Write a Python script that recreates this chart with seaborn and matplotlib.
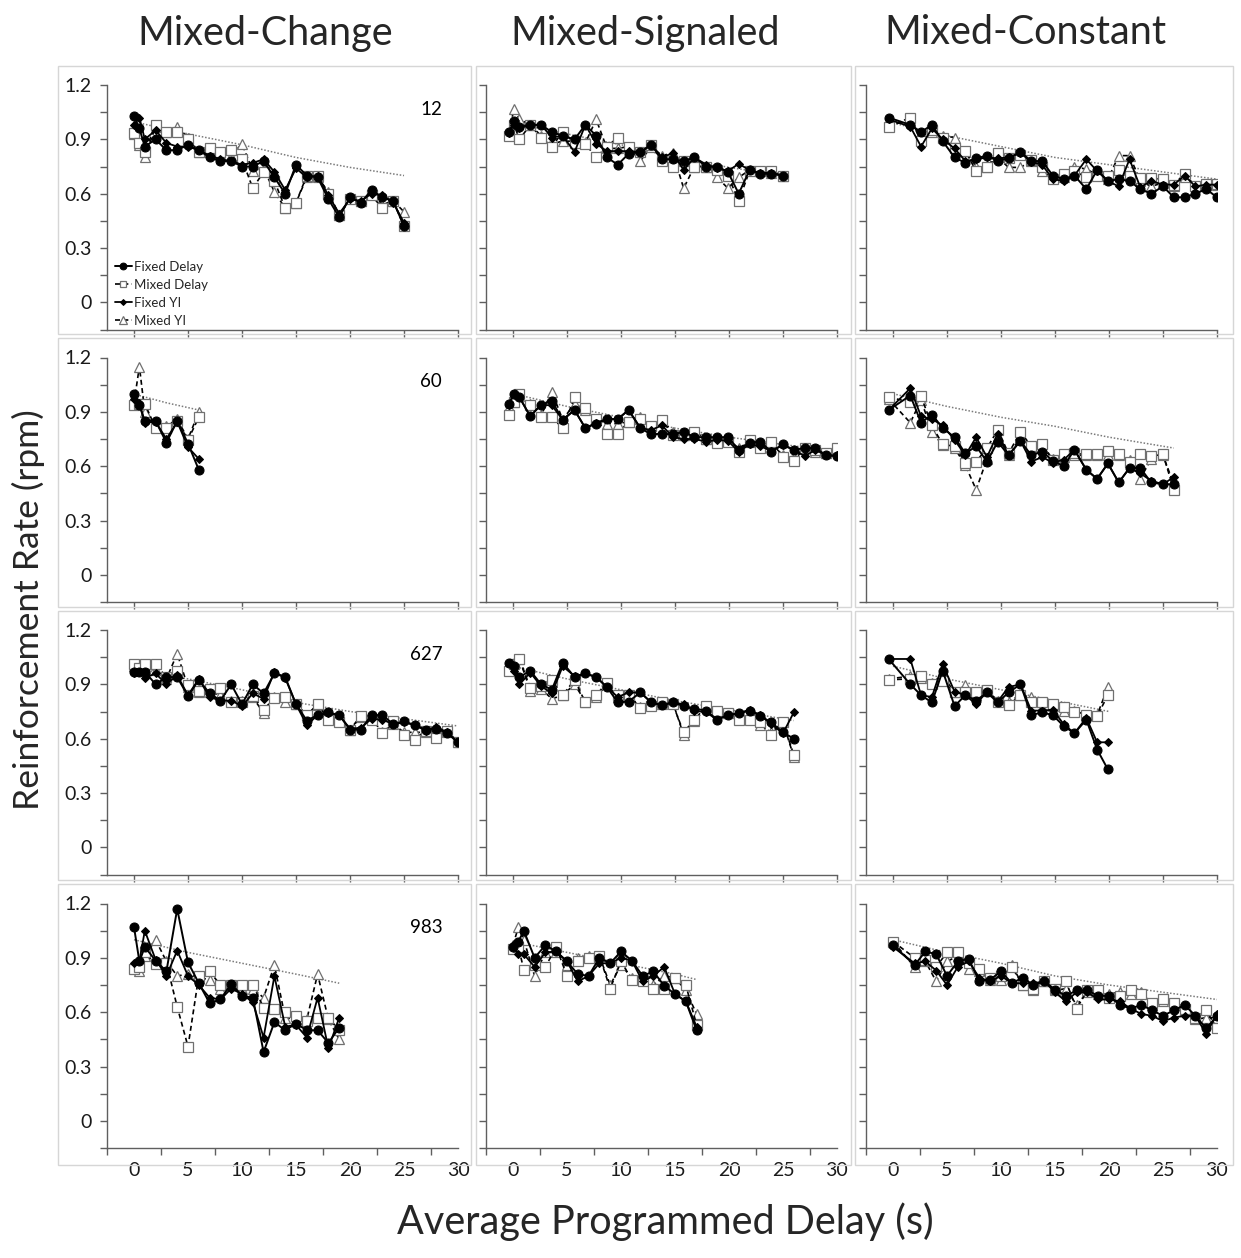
import matplotlib
matplotlib.use("Agg")
import matplotlib.pyplot as plt
import seaborn as sns
from matplotlib.patches import Rectangle

sns.set_theme(style="white")
plt.rcParams["font.family"] = ["Lato", "DejaVu Sans"]

# ---------------- data ----------------
col_titles = ["Mixed-Change", "Mixed-Signaled", "Mixed-Constant"]
subjects = ["12", "60", "627", "983"]
series_names = ["Fixed Delay", "Mixed Delay", "Fixed YI", "Mixed YI"]

# delay positions (s)
x_c1_r1 = [0, 0.5, 1, 2, 3, 4, 5, 6, 7, 8, 9, 10, 11, 12, 13, 14, 15, 16, 17, 18, 19, 20, 21, 22, 23, 24, 25]
x_c1_r2 = [0, 0.5, 1, 2, 3, 4, 5, 6]
x_c1_r3 = [0, 0.5, 1, 2, 3, 4, 5, 6, 7, 8, 9, 10, 11, 12, 13, 14, 15, 16, 17, 18, 19, 20, 21, 22, 23, 24, 25,
           26, 27, 28, 29, 30]
x_c1_r4 = [0, 0.5, 1, 2, 3, 4, 5, 6, 7, 8, 9, 10, 11, 12, 13, 14, 15, 16, 17, 18, 19]
grid_sig = [1.6, 2.6, 3.6, 4.6, 5.7, 6.7, 7.7, 8.7, 9.7, 10.7, 11.8, 12.8, 13.8, 14.8, 15.8, 16.8, 17.9,
            18.9, 19.9, 20.9, 21.9, 22.9, 23.9, 25.0, 26.0, 27.0, 28.0, 29.0, 30.0]
x_c2_r1 = [-0.4, 0.1, 0.6] + grid_sig[:24]
x_c2_r2 = [-0.4, 0.1, 0.6] + grid_sig
x_c2_r3 = [-0.4, 0.1, 0.6] + grid_sig[:25]
x_c2_r4 = [0, 0.5, 1, 2, 3, 4, 5, 6, 7, 8, 9, 10, 11, 12, 13, 14, 15, 16, 17]
x_c3_r1 = [-0.4] + grid_sig
x_c3_r2 = [-0.4] + grid_sig[:25]
x_c3_r3 = [-0.4] + grid_sig[:19]
x_c3_r4 = [0, 2, 3, 4, 5, 6, 7, 8, 9, 10, 11, 12, 13, 14, 15, 16, 17, 18, 19, 20, 21, 22, 23, 24, 25, 26,
           27, 28, 29, 30]

# ---- subject 12 ----
fd_12_chg = [1.03, 0.96, 0.86, 0.90, 0.84, 0.84, 0.87, 0.84, 0.80, 0.78, 0.78, 0.75, 0.75, 0.78, 0.69, 0.60,
             0.76, 0.70, 0.69, 0.57, 0.47, 0.58, 0.55, 0.62, 0.58, 0.56, 0.42]
md_12_chg = [0.935, 0.88, 0.83, 0.98, 0.94, 0.94, 0.90, 0.83, 0.85, 0.83, 0.84, 0.79, 0.63, 0.72, 0.67, 0.52,
             0.55, 0.70, 0.70, 0.60, 0.48, 0.57, 0.56, 0.59, 0.52, 0.56, 0.42]
fyi_12_chg = [0.98, 1.02, 0.90, 0.95, 0.88, 0.86, 0.86, 0.84, 0.81, 0.79, 0.78, 0.76, 0.77, 0.79, 0.72, 0.62,
              0.74, 0.69, 0.70, 0.59, 0.49, 0.57, 0.56, 0.60, 0.59, 0.55, 0.44]
myi_12_chg = [0.93, 0.87, 0.80, 0.97, 0.94, 0.97, 0.91, 0.83, 0.83, 0.82, 0.81, 0.875, 0.725, 0.74, 0.61, 0.52,
              0.55, 0.69, 0.69, 0.61, 0.48, 0.575, 0.56, 0.60, 0.54, 0.56, 0.50]
refx_12_chg = [0.5, 5, 10, 15, 20, 25]
ref_12_chg = [0.99, 0.93, 0.87, 0.80, 0.745, 0.70]

fd_12_sig = [0.94, 1.00, 0.97, 0.98, 0.98, 0.94, 0.92, 0.90, 0.98, 0.92, 0.80, 0.76, 0.82, 0.83, 0.87, 0.79,
             0.79, 0.78, 0.80, 0.75, 0.75, 0.72, 0.60, 0.73, 0.71, 0.71, 0.70]
md_12_sig = [0.92, 0.98, 0.90, 0.98, 0.91, 0.86, 0.94, 0.88, 0.875, 0.80, 0.86, 0.91, 0.86, 0.83, 0.87, 0.78,
             0.75, 0.78, 0.75, 0.75, 0.73, 0.70, 0.56, 0.725, 0.725, 0.725, 0.70]
fyi_12_sig = [0.935, 0.98, 0.96, 0.98, 0.98, 0.91, 0.92, 0.83, 0.98, 0.875, 0.835, 0.835, 0.835, 0.83, 0.87,
              0.80, 0.825, 0.73, 0.80, 0.76, 0.74, 0.725, 0.765, 0.73, 0.715, 0.715, 0.70]
myi_12_sig = [0.935, 1.07, 1.01, 0.98, 0.92, 0.875, 0.89, 0.89, 0.88, 1.01, 0.85, 0.85, 0.86, 0.78, 0.86, 0.81,
              0.825, 0.63, 0.75, 0.75, 0.69, 0.63, 0.69, 0.73, 0.725, 0.715, 0.70]
refx_12_sig = [0, 5, 10, 15, 20, 25]
ref_12_sig = [0.99, 0.93, 0.87, 0.80, 0.745, 0.70]

fd_12_con = [1.02, 0.98, 0.94, 0.98, 0.89, 0.80, 0.77, 0.795, 0.81, 0.78, 0.795, 0.83, 0.78, 0.78, 0.70, 0.68,
             0.70, 0.625, 0.73, 0.67, 0.68, 0.67, 0.625, 0.60, 0.64, 0.58, 0.58, 0.60, 0.625, 0.58]
md_12_con = [0.97, 1.02, 0.89, 0.95, 0.91, 0.85, 0.835, 0.725, 0.745, 0.825, 0.795, 0.815, 0.785, 0.745, 0.68,
             0.71, 0.725, 0.69, 0.70, 0.70, 0.73, 0.70, 0.685, 0.685, 0.68, 0.65, 0.71, 0.64, 0.655, 0.655]
fyi_12_con = [1.01, 0.97, 0.86, 0.96, 0.90, 0.85, 0.78, 0.79, 0.80, 0.795, 0.80, 0.825, 0.775, 0.76, 0.68,
              0.67, 0.70, 0.79, 0.725, 0.67, 0.64, 0.79, 0.635, 0.67, 0.65, 0.65, 0.70, 0.64, 0.65, 0.65]
myi_12_con = [0.98, 1.00, 0.90, 0.94, 0.92, 0.91, 0.835, 0.75, 0.745, 0.80, 0.745, 0.745, 0.78, 0.725, 0.685,
              0.69, 0.75, 0.735, 0.705, 0.68, 0.81, 0.81, 0.67, 0.64, 0.66, 0.64, 0.69, 0.64, 0.65, 0.65]
refx_12_con = [0, 5, 10, 15, 20, 25, 30]
ref_12_con = [0.99, 0.92, 0.86, 0.80, 0.76, 0.72, 0.68]

# ---- subject 60 ----
fd_60_chg = [1.00, 0.935, 0.85, 0.85, 0.73, 0.85, 0.725, 0.58]
md_60_chg = [0.935, 0.945, 0.945, 0.81, 0.81, 0.85, 0.745, 0.87]
fyi_60_chg = [0.97, 0.95, 0.84, 0.845, 0.75, 0.845, 0.705, 0.64]
myi_60_chg = [0.95, 1.15, 0.90, 0.82, 0.82, 0.86, 0.75, 0.90]
refx_60_chg = [0.5, 3, 6]
ref_60_chg = [0.99, 0.95, 0.91]

fd_60_sig = [0.945, 1.00, 0.98, 0.875, 0.94, 0.96, 0.855, 0.91, 0.81, 0.835, 0.86, 0.86, 0.91, 0.81, 0.775,
             0.78, 0.775, 0.79, 0.76, 0.76, 0.76, 0.76, 0.69, 0.73, 0.735, 0.68, 0.72, 0.69, 0.70, 0.70, 0.66,
             0.655]
md_60_sig = [0.88, 0.955, 1.00, 0.935, 0.87, 0.87, 0.81, 0.98, 0.92, 0.86, 0.78, 0.78, 0.845, 0.86, 0.82,
             0.855, 0.77, 0.77, 0.79, 0.75, 0.73, 0.735, 0.68, 0.745, 0.70, 0.735, 0.65, 0.63, 0.70, 0.69, 0.67,
             0.70]
fyi_60_sig = [0.935, 1.00, 0.98, 0.875, 0.94, 0.935, 0.857, 0.91, 0.81, 0.84, 0.86, 0.86, 0.91, 0.81, 0.80,
              0.825, 0.76, 0.75, 0.75, 0.735, 0.745, 0.74, 0.68, 0.72, 0.71, 0.685, 0.715, 0.69, 0.655, 0.69,
              0.66, 0.66]
myi_60_sig = [0.925, 0.955, 0.99, 0.945, 0.88, 1.01, 0.857, 0.945, 0.91, 0.86, 0.835, 0.835, 0.845, 0.87,
              0.82, 0.855, 0.79, 0.77, 0.78, 0.75, 0.735, 0.745, 0.70, 0.735, 0.72, 0.725, 0.66, 0.65, 0.70,
              0.68, 0.67, 0.69]
refx_60_sig = [0, 5, 10, 15, 20, 25, 30]
ref_60_sig = [1.0, 0.93, 0.87, 0.81, 0.76, 0.72, 0.68]

fd_60_con = [0.91, 0.99, 0.84, 0.885, 0.81, 0.76, 0.67, 0.71, 0.625, 0.735, 0.66, 0.74, 0.66, 0.68, 0.63,
             0.60, 0.69, 0.58, 0.53, 0.615, 0.51, 0.59, 0.59, 0.51, 0.50, 0.50]
md_60_con = [0.98, 0.955, 0.985, 0.825, 0.72, 0.71, 0.62, 0.625, 0.70, 0.80, 0.67, 0.79, 0.71, 0.725, 0.635,
             0.665, 0.67, 0.665, 0.665, 0.685, 0.665, 0.625, 0.665, 0.655, 0.665, 0.47]
fyi_60_con = [0.91, 1.03, 0.875, 0.86, 0.825, 0.745, 0.66, 0.76, 0.65, 0.78, 0.66, 0.74, 0.625, 0.65, 0.62,
              0.635, 0.69, 0.58, 0.53, 0.615, 0.51, 0.59, 0.56, 0.52, 0.50, 0.54]
myi_60_con = [0.97, 0.84, 0.965, 0.79, 0.715, 0.70, 0.605, 0.47, 0.64, 0.765, 0.66, 0.76, 0.705, 0.705, 0.64,
              0.65, 0.66, 0.66, 0.66, 0.66, 0.66, 0.635, 0.53, 0.64, 0.66, 0.50]
refx_60_con = [0, 5, 10, 15, 20, 26]
ref_60_con = [1.0, 0.93, 0.87, 0.82, 0.76, 0.70]

# ---- subject 627 ----
fd_627_chg = [0.97, 0.97, 0.97, 0.90, 0.94, 0.94, 0.835, 0.925, 0.85, 0.81, 0.90, 0.79, 0.90, 0.85, 0.96,
              0.94, 0.79, 0.70, 0.73, 0.745, 0.73, 0.65, 0.65, 0.73, 0.73, 0.68, 0.695, 0.675, 0.65, 0.655,
              0.63, 0.58]
md_627_chg = [1.01, 0.99, 1.01, 1.01, 0.94, 0.975, 0.895, 0.865, 0.875, 0.88, 0.80, 0.80, 0.835, 0.76, 0.825,
              0.83, 0.79, 0.73, 0.79, 0.705, 0.69, 0.65, 0.725, 0.705, 0.63, 0.695, 0.62, 0.595, 0.645, 0.605,
              0.645, 0.58]
fyi_627_chg = [0.965, 0.97, 0.935, 0.96, 0.90, 0.95, 0.84, 0.93, 0.83, 0.81, 0.81, 0.78, 0.85, 0.82, 0.97,
               0.935, 0.79, 0.675, 0.73, 0.74, 0.73, 0.655, 0.66, 0.71, 0.705, 0.68, 0.69, 0.675, 0.645, 0.665,
               0.635, 0.58]
myi_627_chg = [1.00, 0.995, 0.985, 0.98, 0.93, 1.07, 0.885, 0.855, 0.86, 0.84, 0.81, 0.81, 0.83, 0.74, 0.83,
               0.80, 0.79, 0.73, 0.785, 0.73, 0.695, 0.65, 0.72, 0.71, 0.635, 0.68, 0.635, 0.635, 0.635, 0.625,
               0.635, 0.58]
refx_627_chg = [0, 5, 10, 15, 20, 25, 30]
ref_627_chg = [0.99, 0.93, 0.87, 0.80, 0.75, 0.71, 0.67]

fd_627_sig = [1.02, 1.00, 0.94, 0.975, 0.90, 0.87, 1.02, 0.94, 0.96, 0.94, 0.885, 0.80, 0.805, 0.855, 0.80,
              0.785, 0.80, 0.78, 0.765, 0.755, 0.705, 0.73, 0.74, 0.755, 0.725, 0.69, 0.635, 0.60]
md_627_sig = [0.975, 1.01, 1.04, 0.88, 0.89, 0.925, 0.84, 0.925, 0.80, 0.84, 0.91, 0.84, 0.84, 0.77, 0.78,
              0.80, 0.79, 0.635, 0.705, 0.78, 0.755, 0.74, 0.705, 0.705, 0.69, 0.62, 0.69, 0.51]
fyi_627_sig = [1.02, 0.975, 0.90, 0.965, 0.89, 0.85, 1.00, 0.945, 0.96, 0.94, 0.885, 0.83, 0.855, 0.855, 0.80,
               0.785, 0.80, 0.79, 0.755, 0.745, 0.705, 0.73, 0.74, 0.76, 0.73, 0.68, 0.63, 0.745]
myi_627_sig = [0.98, 1.02, 1.04, 0.865, 0.875, 0.82, 0.84, 0.90, 0.805, 0.83, 0.90, 0.83, 0.84, 0.775, 0.79,
               0.79, 0.80, 0.62, 0.695, 0.775, 0.745, 0.74, 0.715, 0.72, 0.675, 0.635, 0.69, 0.50]
refx_627_sig = [0, 5, 10, 15, 20, 26]
ref_627_sig = [1.0, 0.93, 0.87, 0.81, 0.76, 0.70]

fd_627_con = [1.04, 0.90, 0.84, 0.80, 0.975, 0.78, 0.84, 0.81, 0.855, 0.80, 0.855, 0.90, 0.73, 0.745, 0.73,
              0.67, 0.63, 0.705, 0.54, 0.43]
md_627_con = [0.925, 0.93, 0.945, 0.90, 0.92, 0.855, 0.86, 0.855, 0.87, 0.805, 0.785, 0.84, 0.80, 0.80, 0.79,
              0.775, 0.75, 0.73, 0.725, 0.84]
fyi_627_con = [1.04, 1.04, 0.84, 0.83, 1.01, 0.86, 0.84, 0.79, 0.86, 0.805, 0.885, 0.90, 0.755, 0.755, 0.76,
               0.68, 0.63, 0.715, 0.58, 0.58]
myi_627_con = [0.93, 0.945, 0.935, 0.91, 0.95, 0.855, 0.895, 0.84, 0.865, 0.81, 0.805, 0.84, 0.83, 0.80, 0.78,
               0.755, 0.755, 0.73, 0.73, 0.885]
refx_627_con = [0, 5, 10, 15, 20]
ref_627_con = [1.0, 0.93, 0.87, 0.81, 0.75]

# ---- subject 983 ----
fd_983_chg = [1.07, 0.88, 0.96, 0.885, 0.825, 1.17, 0.875, 0.76, 0.65, 0.67, 0.757, 0.69, 0.68, 0.38, 0.545,
              0.50, 0.537, 0.50, 0.50, 0.43, 0.515]
md_983_chg = [0.84, 0.85, 0.93, 0.865, 0.87, 0.63, 0.41, 0.80, 0.825, 0.75, 0.75, 0.75, 0.75, 0.625, 0.62,
              0.60, 0.58, 0.55, 0.57, 0.57, 0.50]
fyi_983_chg = [0.87, 0.88, 1.05, 0.89, 0.80, 0.94, 0.80, 0.75, 0.68, 0.67, 0.73, 0.70, 0.655, 0.46, 0.80,
               0.52, 0.53, 0.46, 0.68, 0.40, 0.57]
myi_983_chg = [0.85, 0.83, 0.91, 1.00, 0.88, 0.80, 0.81, 0.79, 0.78, 0.73, 0.75, 0.73, 0.73, 0.68, 0.86,
               0.57, 0.56, 0.56, 0.81, 0.56, 0.45]
refx_983_chg = [0, 5, 10, 15, 19]
ref_983_chg = [1.0, 0.93, 0.87, 0.81, 0.76]

fd_983_sig = [0.96, 0.99, 1.05, 0.90, 0.97, 0.935, 0.88, 0.81, 0.80, 0.90, 0.87, 0.935, 0.885, 0.80, 0.825,
              0.745, 0.70, 0.66, 0.50]
md_983_sig = [0.95, 0.96, 0.835, 0.86, 0.85, 0.96, 0.80, 0.88, 0.90, 0.91, 0.73, 0.88, 0.78, 0.77, 0.73,
              0.73, 0.79, 0.75, 0.53]
fyi_983_sig = [0.97, 0.92, 0.92, 0.85, 0.93, 0.935, 0.88, 0.77, 0.80, 0.87, 0.87, 0.90, 0.885, 0.77, 0.80,
               0.85, 0.70, 0.66, 0.52]
myi_983_sig = [0.97, 1.07, 1.00, 0.80, 0.93, 0.93, 0.86, 0.90, 0.91, 0.91, 0.75, 0.86, 0.79, 0.78, 0.75,
               0.80, 0.79, 0.72, 0.59]
refx_983_sig = [0, 5, 10, 15, 17]
ref_983_sig = [0.99, 0.93, 0.87, 0.81, 0.78]

fd_983_con = [0.97, 0.86, 0.935, 0.92, 0.80, 0.88, 0.895, 0.77, 0.78, 0.825, 0.76, 0.79, 0.75, 0.77, 0.725,
              0.69, 0.72, 0.72, 0.69, 0.69, 0.64, 0.62, 0.64, 0.61, 0.58, 0.61, 0.64, 0.58, 0.51, 0.58]
md_983_con = [0.99, 0.90, 0.89, 0.85, 0.93, 0.93, 0.87, 0.84, 0.79, 0.80, 0.85, 0.75, 0.73, 0.77, 0.73,
              0.77, 0.62, 0.72, 0.72, 0.68, 0.69, 0.72, 0.70, 0.65, 0.67, 0.65, 0.62, 0.57, 0.61, 0.51]
fyi_983_con = [0.96, 0.87, 0.88, 0.83, 0.75, 0.85, 0.88, 0.79, 0.77, 0.80, 0.76, 0.76, 0.76, 0.77, 0.71,
               0.66, 0.71, 0.71, 0.67, 0.67, 0.66, 0.62, 0.59, 0.58, 0.55, 0.57, 0.58, 0.58, 0.48, 0.59]
myi_983_con = [0.99, 0.85, 0.88, 0.77, 0.88, 0.91, 0.84, 0.83, 0.78, 0.78, 0.86, 0.75, 0.72, 0.77, 0.72,
               0.73, 0.64, 0.71, 0.70, 0.70, 0.71, 0.70, 0.71, 0.64, 0.66, 0.64, 0.61, 0.56, 0.57, 0.57]
refx_983_con = [0, 5, 10, 15, 20, 25, 30]
ref_983_con = [1.0, 0.93, 0.87, 0.80, 0.75, 0.71, 0.67]

yticks = [-0.15, 0, 0.15, 0.3, 0.45, 0.6, 0.75, 0.9, 1.05, 1.2]
ytick_labels = ["", "0", "", "0.3", "", "0.6", "", "0.9", "", "1.2"]
xticks = [0, 5, 10, 15, 20, 25, 30]
xtick_labels = ["0", "5", "10", "15", "20", "25", "30"]
xticks_minor = [-2.5, 2.5, 7.5, 12.5, 17.5, 22.5, 27.5, 30]

panels = [
    [(x_c1_r1, fd_12_chg, md_12_chg, fyi_12_chg, myi_12_chg, refx_12_chg, ref_12_chg),
     (x_c2_r1, fd_12_sig, md_12_sig, fyi_12_sig, myi_12_sig, refx_12_sig, ref_12_sig),
     (x_c3_r1, fd_12_con, md_12_con, fyi_12_con, myi_12_con, refx_12_con, ref_12_con)],
    [(x_c1_r2, fd_60_chg, md_60_chg, fyi_60_chg, myi_60_chg, refx_60_chg, ref_60_chg),
     (x_c2_r2, fd_60_sig, md_60_sig, fyi_60_sig, myi_60_sig, refx_60_sig, ref_60_sig),
     (x_c3_r2, fd_60_con, md_60_con, fyi_60_con, myi_60_con, refx_60_con, ref_60_con)],
    [(x_c1_r3, fd_627_chg, md_627_chg, fyi_627_chg, myi_627_chg, refx_627_chg, ref_627_chg),
     (x_c2_r3, fd_627_sig, md_627_sig, fyi_627_sig, myi_627_sig, refx_627_sig, ref_627_sig),
     (x_c3_r3, fd_627_con, md_627_con, fyi_627_con, myi_627_con, refx_627_con, ref_627_con)],
    [(x_c1_r4, fd_983_chg, md_983_chg, fyi_983_chg, myi_983_chg, refx_983_chg, ref_983_chg),
     (x_c2_r4, fd_983_sig, md_983_sig, fyi_983_sig, myi_983_sig, refx_983_sig, ref_983_sig),
     (x_c3_r4, fd_983_con, md_983_con, fyi_983_con, myi_983_con, refx_983_con, ref_983_con)],
]

# ---------------- layout ----------------
W, H = 1241, 1258
fig = plt.figure(figsize=(W / 100, H / 100), dpi=100)

col_left = [107, 486, 866]
ax_w = 351
row_bottom = [329.5, 602, 874.5, 1148]
ax_h = 244.5

border_x = [(58, 471), (476, 851), (855, 1233)]
border_y = [(66, 334), (338, 607), (611, 880), (884, 1165)]
for (bx0, bx1) in border_x:
    for (by0, by1) in border_y:
        fig.patches.append(Rectangle((bx0 / W, 1 - by1 / H), (bx1 - bx0) / W, (by1 - by0) / H,
                                     transform=fig.transFigure, fill=False,
                                     edgecolor="#d6d6d6", linewidth=1.0, zorder=0))

spine_col = "#5f5f5f"
for r in range(4):
    for c in range(3):
        x, fd, md, fyi, myi, rx, ry = panels[r][c]
        ax = fig.add_axes([col_left[c] / W, 1 - row_bottom[r] / H, ax_w / W, ax_h / H])
        ax.set_facecolor("none")
        sns.lineplot(x=rx, y=ry, ax=ax, color="#7a7a7a", linewidth=1.1, linestyle=(0, (1, 1.2)),
                     sort=False, estimator=None, legend=False, zorder=1)
        l_myi = sns.lineplot(x=x, y=myi, ax=ax, color="black", linewidth=1.2, linestyle=(0, (3, 2)),
                             marker="^", markersize=7, markerfacecolor="white", markeredgecolor="#707070",
                             markeredgewidth=0.9, sort=False, estimator=None, legend=False, zorder=2,
                             label=series_names[3]).get_lines()[-1]
        l_md = sns.lineplot(x=x, y=md, ax=ax, color="black", linewidth=1.2, linestyle=(0, (3, 2)),
                            marker="s", markersize=6.5, markerfacecolor="white", markeredgecolor="#707070",
                            markeredgewidth=0.9, sort=False, estimator=None, legend=False, zorder=3,
                            label=series_names[1]).get_lines()[-1]
        l_fyi = sns.lineplot(x=x, y=fyi, ax=ax, color="black", linewidth=1.3,
                             marker="D", markersize=4, markerfacecolor="black", markeredgecolor="black",
                             sort=False, estimator=None, legend=False, zorder=4,
                             label=series_names[2]).get_lines()[-1]
        l_fd = sns.lineplot(x=x, y=fd, ax=ax, color="black", linewidth=1.4,
                            marker="o", markersize=6.5, markerfacecolor="black", markeredgecolor="black",
                            sort=False, estimator=None, legend=False, zorder=5,
                            label=series_names[0]).get_lines()[-1]

        ax.set_xlim(-2.5, 30)
        ax.set_ylim(-0.15, 1.2)
        ax.set_xlabel("")
        ax.set_ylabel("")
        for s in ["top", "right"]:
            ax.spines[s].set_visible(False)
        for s in ["left", "bottom"]:
            ax.spines[s].set_color(spine_col)
            ax.spines[s].set_linewidth(1.0)

        ax.set_yticks(yticks)
        ax.set_yticklabels(ytick_labels if c == 0 else [""] * len(yticks))
        ax.tick_params(axis="y", direction="out", length=5, width=1, color=spine_col,
                       labelsize=14, pad=6, left=True, labelcolor="#1a1a1a")
        if r == 3:
            ax.set_xticks(xticks)
            ax.set_xticklabels(xtick_labels)
            ax.set_xticks(xticks_minor, minor=True)
            ax.tick_params(axis="x", which="major", length=0, labelsize=14, pad=10, bottom=True,
                           labelcolor="#1a1a1a")
            ax.tick_params(axis="x", which="minor", direction="out", length=5, width=1,
                           color=spine_col, bottom=True)
        else:
            ax.set_xticks(xticks)
            ax.set_xticklabels([""] * len(xticks))
            ax.tick_params(axis="x", direction="out", length=5, width=1, color=spine_col, bottom=True)
        ax.grid(False)

        if c == 0:
            ax.text(0.955, 0.90, subjects[r], transform=ax.transAxes, ha="right", va="center",
                    fontsize=13.5, color="black")
        if r == 0 and c == 0:
            ax.legend(handles=[l_fd, l_md, l_fyi, l_myi], labels=series_names, loc="lower left",
                      bbox_to_anchor=(0.015, 0.0), frameon=False, fontsize=9.5, handlelength=1.3,
                      handletextpad=0.15, labelspacing=0.45, borderpad=0.1, borderaxespad=0.1,
                      markerscale=0.75, numpoints=1)

for c, t in enumerate(col_titles):
    fig.text([265, 645, 1025][c] / W, 1 - 33 / H, t, ha="center", va="center", fontsize=28.5)

fig.text(28 / W, 1 - 610 / H, "Reinforcement Rate (rpm)", rotation=90, ha="center", va="center",
         fontsize=25.5)
fig.text(665 / W, 1 - 1222 / H, "Average Programmed Delay (s)", ha="center", va="center", fontsize=28.5)

fig.savefig("out.png", dpi=100)
